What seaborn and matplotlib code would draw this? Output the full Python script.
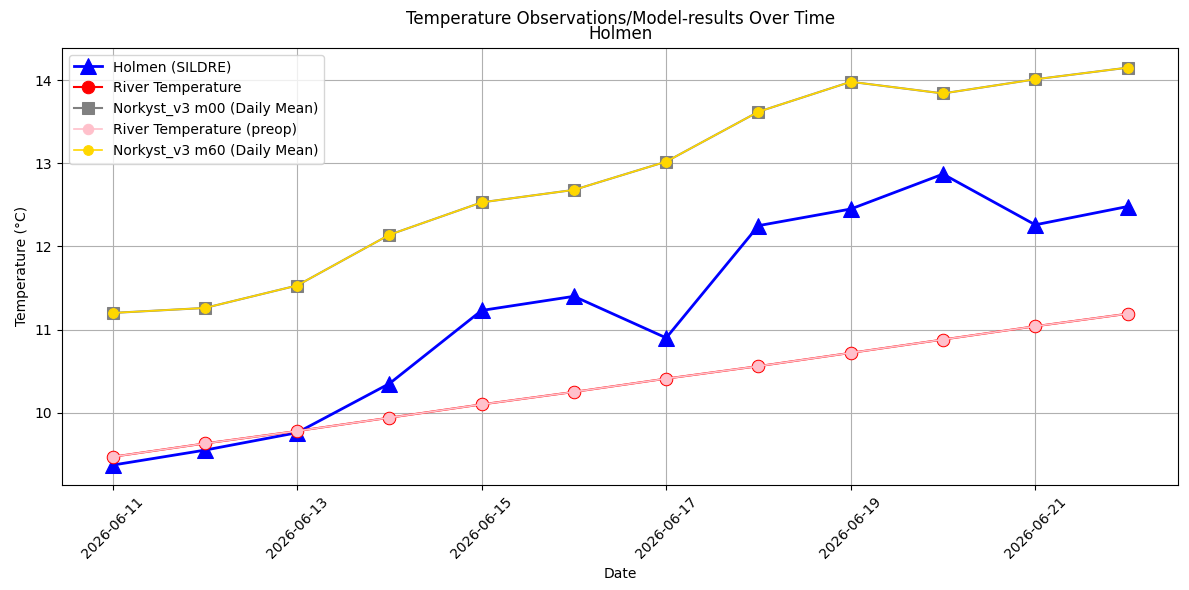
import pandas as pd
import numpy as np
import matplotlib
matplotlib.use("Agg")
import matplotlib.pyplot as plt
import matplotlib.dates as mdates
import seaborn as sns

dates = pd.date_range("2026-06-11", "2026-06-22", freq="D")
holmen = [9.37, 9.55, 9.76, 10.35, 11.23, 11.40, 10.90, 12.25, 12.45, 12.87, 12.26, 12.48]
river = [9.47, 9.63, 9.78, 9.94, 10.10, 10.25, 10.41, 10.56, 10.72, 10.88, 11.04, 11.19]
river_preop = [9.47, 9.63, 9.78, 9.94, 10.10, 10.25, 10.41, 10.56, 10.72, 10.88, 11.04, 11.19]
norkyst_m00 = [11.20, 11.26, 11.53, 12.14, 12.53, 12.68, 13.02, 13.62, 13.98, 13.84, 14.01, 14.15]
norkyst_m60 = [11.20, 11.26, 11.53, 12.14, 12.53, 12.68, 13.02, 13.62, 13.98, 13.84, 14.01, 14.15]

df = pd.DataFrame({"date": dates, "holmen": holmen, "river": river,
                   "preop": river_preop, "m00": norkyst_m00, "m60": norkyst_m60})

fig, ax = plt.subplots(figsize=(11.89, 5.9), dpi=100)

sns.lineplot(data=df, x="date", y="holmen", ax=ax, color="blue", marker="^",
             markersize=11, linewidth=2, markeredgecolor="blue", label="Holmen (SILDRE)")
sns.lineplot(data=df, x="date", y="river", ax=ax, color="red", marker="o",
             markersize=9, linewidth=1.5, markeredgecolor="red", label="River Temperature")
sns.lineplot(data=df, x="date", y="m00", ax=ax, color="gray", marker="s",
             markersize=9, linewidth=1.5, markeredgecolor="gray", label="Norkyst_v3 m00 (Daily Mean)")
sns.lineplot(data=df, x="date", y="preop", ax=ax, color="pink", marker="o",
             markersize=7.5, linewidth=1.2, markeredgecolor="pink", label="River Temperature (preop)")
sns.lineplot(data=df, x="date", y="m60", ax=ax, color="gold", marker="o",
             markersize=7, linewidth=1.2, markeredgecolor="gold", label="Norkyst_v3 m60 (Daily Mean)")

ax.set_title("Temperature Observations/Model-results Over Time\nHolmen", linespacing=0.85)
ax.set_xlabel("Date")
ax.set_ylabel("Temperature (°C)")
ax.set_xticks(dates[::2])
ax.xaxis.set_major_formatter(mdates.DateFormatter("%Y-%m-%d"))
plt.setp(ax.get_xticklabels(), rotation=45)
ax.grid(True)
ax.legend(loc="upper left")
fig.subplots_adjust(left=0.052, right=0.991, top=0.919, bottom=0.178)
plt.savefig("out.png", dpi=100)
